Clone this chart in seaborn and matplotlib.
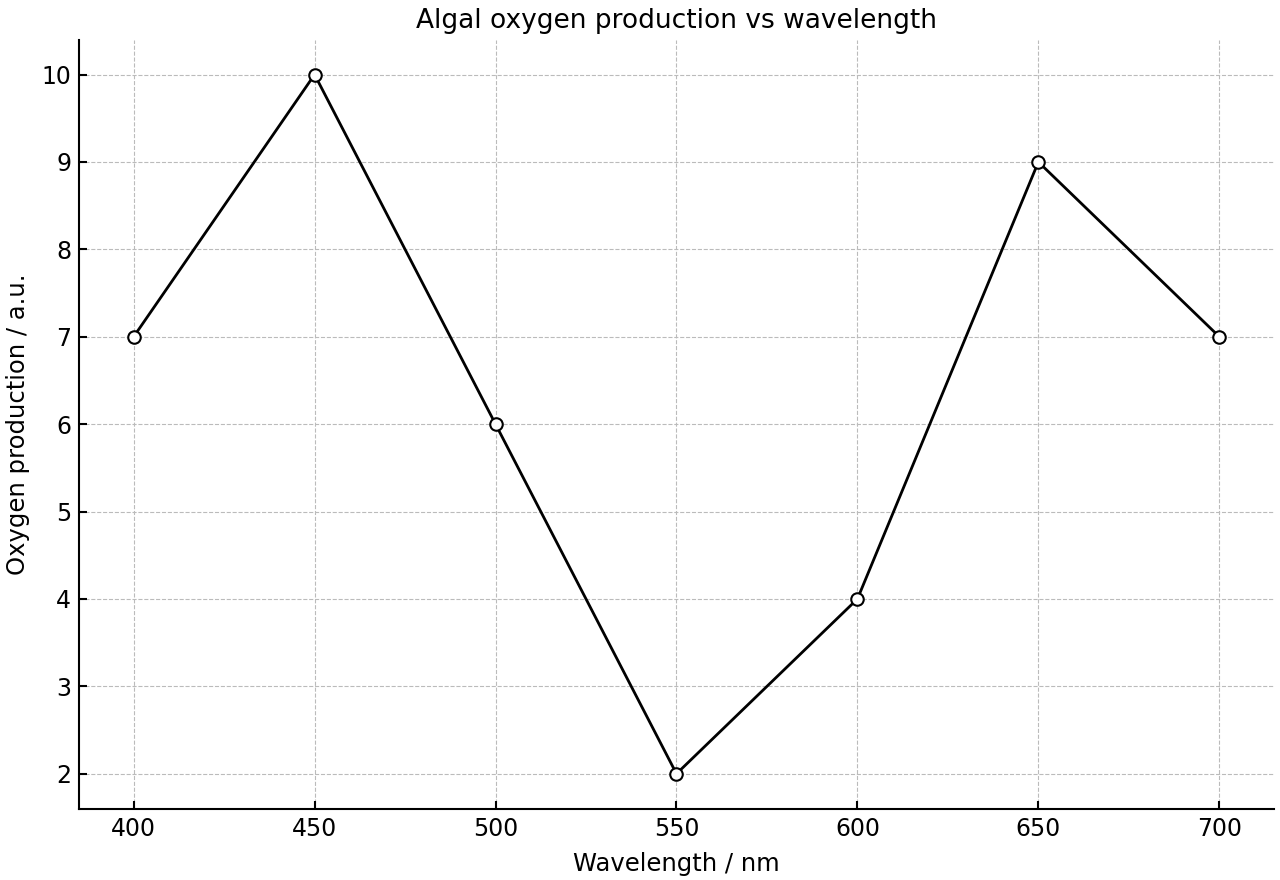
import matplotlib
matplotlib.use("Agg")
import matplotlib.pyplot as plt
import pandas as pd
import seaborn as sns

wavelength = [400, 450, 500, 550, 600, 650, 700]
oxygen = [7, 10, 6, 2, 4, 9, 7]

df = pd.DataFrame({"wavelength": wavelength, "oxygen": oxygen})

sns.set_style("ticks", {"axes.edgecolor": "black", "text.color": "black",
                        "axes.labelcolor": "black", "xtick.color": "black",
                        "ytick.color": "black"})
plt.rcParams["font.family"] = ["DejaVu Sans"]

fig, ax = plt.subplots(figsize=(12.8, 8.8), dpi=100)
sns.lineplot(
    data=df, x="wavelength", y="oxygen", ax=ax,
    color="black", linewidth=2, marker="o", markersize=9,
    markerfacecolor="white", markeredgecolor="black", markeredgewidth=1.5,
)
ax.grid(True, linestyle="--", color="#bbbbbb", linewidth=0.8)
ax.set_axisbelow(True)
ax.tick_params(direction="in", labelsize=17, length=6, width=1.5, pad=6)
for s in ("left", "bottom"):
    ax.spines[s].set_linewidth(1.5)
sns.despine(ax=ax)
ax.set_xlabel("Wavelength / nm", fontsize=17.5, labelpad=8)
ax.set_ylabel("Oxygen production / a.u.", fontsize=17.5, labelpad=8)
ax.set_title("Algal oxygen production vs wavelength", fontsize=19, pad=8)
ax.set_xticks(wavelength)
ax.set_yticks(range(2, 11))
fig.subplots_adjust(left=0.062, right=0.995, top=0.955, bottom=0.081)
fig.savefig("out.png", dpi=100)
